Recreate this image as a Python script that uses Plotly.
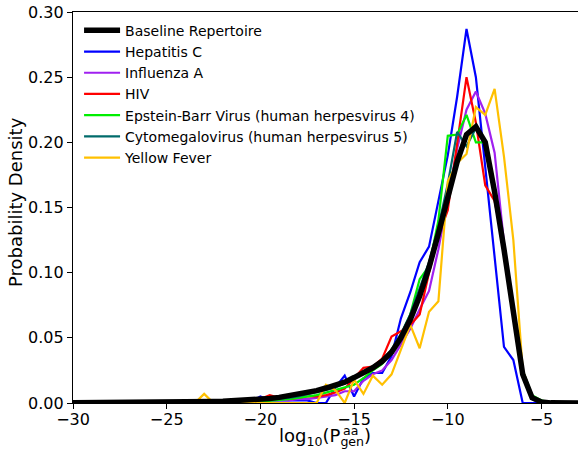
import numpy as np
import plotly.graph_objects as go

# bin centres of log10(Pgen) histogram, -30 .. -3 step 0.5
x_bins = np.arange(-30, -2.99, 0.5)

baseline = [0.0002, 0.0002, 0.0002, 0.0002, 0.0003, 0.0003, 0.0003, 0.0003, 0.0004, 0.0004,
            0.0005, 0.0006, 0.0007, 0.0008, 0.0009, 0.0011, 0.0013, 0.0016, 0.0019, 0.0023,
            0.0028, 0.0035, 0.0043, 0.0055, 0.0068, 0.0078, 0.0095, 0.0115, 0.0135, 0.016,
            0.0195, 0.023, 0.027, 0.032, 0.039, 0.050, 0.064, 0.082, 0.104, 0.130,
            0.157, 0.185, 0.206, 0.212, 0.200, 0.162, 0.118, 0.068, 0.022, 0.004,
            0.0008, 0.0001, 0.0, 0.0, 0.0]

hepatitis_c = [0, 0, 0, 0, 0, 0, 0, 0, 0, 0,
               0, 0, 0, 0, 0, 0, 0, 0, 0.0005, 0.001,
               0.005, 0.002, 0.002, 0.002, 0.002, 0.002, 0.0, 0.0, 0.012, 0.021,
               0.005, 0.019, 0.023, 0.023, 0.036, 0.065, 0.085, 0.108, 0.120, 0.155,
               0.190, 0.235, 0.287, 0.250, 0.180, 0.115, 0.043, 0.033, 0.0, 0.0,
               0, 0, 0, 0, 0]

influenza_a = [0, 0, 0, 0, 0, 0, 0, 0, 0, 0,
               0, 0, 0, 0, 0, 0, 0, 0, 0.0005, 0.001,
               0.001, 0.002, 0.002, 0.002, 0.003, 0.003, 0.004, 0.005, 0.006, 0.009,
               0.009, 0.017, 0.022, 0.025, 0.033, 0.045, 0.057, 0.072, 0.086, 0.118,
               0.158, 0.195, 0.225, 0.239, 0.222, 0.192, 0.123, 0.070, 0.025, 0.005,
               0.001, 0, 0, 0, 0]

hiv = [0, 0, 0, 0, 0, 0, 0, 0, 0, 0,
       0, 0, 0, 0, 0, 0, 0, 0, 0.001, 0.002,
       0.003, 0.006, 0.004, 0.003, 0.004, 0.005, 0.005, 0.006, 0.008, 0.011,
       0.019, 0.027, 0.028, 0.034, 0.051, 0.055, 0.060, 0.068, 0.100, 0.128,
       0.148, 0.200, 0.250, 0.215, 0.167, 0.155, 0.120, 0.068, 0.022, 0.004,
       0.001, 0, 0, 0, 0]

ebv = [0, 0, 0, 0, 0, 0, 0, 0, 0, 0,
       0, 0, 0, 0, 0, 0, 0, 0, 0.0003, 0.0005,
       0.001, 0.0015, 0.002, 0.003, 0.004, 0.005, 0.006, 0.008, 0.010, 0.012,
       0.014, 0.019, 0.025, 0.030, 0.040, 0.052, 0.068, 0.095, 0.105, 0.140,
       0.205, 0.206, 0.221, 0.200, 0.200, 0.160, 0.118, 0.068, 0.025, 0.006,
       0.002, 0, 0, 0, 0]

cmv = [0, 0, 0, 0, 0, 0, 0, 0, 0, 0,
       0, 0, 0, 0, 0, 0, 0, 0, 0.001, 0.0015,
       0.002, 0.0025, 0.003, 0.004, 0.005, 0.0065, 0.008, 0.010, 0.012, 0.015,
       0.019, 0.024, 0.028, 0.033, 0.041, 0.053, 0.068, 0.088, 0.108, 0.135,
       0.168, 0.208, 0.197, 0.211, 0.198, 0.160, 0.118, 0.068, 0.022, 0.004,
       0.001, 0, 0, 0, 0]

yellow_fever = [0, 0, 0, 0, 0, 0, 0, 0, 0, 0,
                0, 0, 0, 0, 0.007, 0, 0, 0, 0, 0,
                0, 0, 0, 0, 0, 0, 0, 0.014, 0.010, 0.0,
                0.018, 0.007, 0.021, 0.014, 0.022, 0.041, 0.060, 0.042, 0.070, 0.078,
                0.170, 0.184, 0.191, 0.227, 0.221, 0.241, 0.189, 0.125, 0.025, 0.005,
                0.001, 0, 0, 0, 0]

series = [
    ("Hepatitis C", hepatitis_c, "#0000ff"),
    ("Influenza A", influenza_a, "#a020f0"),
    ("HIV", hiv, "#ff0000"),
    ("Epstein-Barr Virus (human herpesvirus 4)", ebv, "#00ee00"),
    ("Cytomegalovirus (human herpesvirus 5)", cmv, "#006b6b"),
    ("Yellow Fever", yellow_fever, "#ffc000"),
]

fig = go.Figure()
for rank, (name, vals, color) in enumerate(series, start=2):
    fig.add_trace(go.Scatter(x=x_bins, y=vals, mode="lines", name=name,
                             line=dict(color=color, width=2.2), legendrank=rank))
fig.add_trace(go.Scatter(x=x_bins, y=baseline, mode="lines", name="Baseline Repertoire",
                         line=dict(color="black", width=5.5), legendrank=1))

font_family = "DejaVu Sans"
W, H = 578, 452
L, T, B, R = 73, 12, 49, 0
PW, PH = W - L - R, H - T - B


def px(page_x):
    return (page_x - L) / PW


def py(page_y):
    return (T + PH - page_y) / PH


fig.update_layout(
    width=W, height=H,
    margin=dict(l=L, r=R, t=T, b=B),
    plot_bgcolor="white", paper_bgcolor="white",
    font=dict(family=font_family, size=16, color="black"),
    showlegend=True,
    legend=dict(x=0.012, y=0.993, xanchor="left", yanchor="top", itemwidth=36,
                bgcolor="rgba(0,0,0,0)", font=dict(size=14, family=font_family)),
    xaxis=dict(range=[-30, -3.05], tickvals=[-30, -25, -20, -15, -10, -5],
               ticks="outside", ticklen=5, tickcolor="black", showline=True,
               linecolor="black", linewidth=1.2, mirror=True, showgrid=False,
               zeroline=False, automargin=False, ticklabelstandoff=-3),
    yaxis=dict(range=[0, 0.30], dtick=0.05, tickformat=".2f",
               ticks="outside", ticklen=5, tickcolor="black", showline=True,
               linecolor="black", linewidth=1.2, showgrid=False, zeroline=False,
               automargin=False),
)
# axis titles
fig.add_annotation(text="Probability Density", xref="paper", yref="paper",
                   x=px(15), y=py(202), showarrow=False, textangle=-90,
                   font=dict(size=18, family=font_family), xanchor="center", yanchor="middle")
fig.add_annotation(text="log<sub>10</sub>(P<sub>gen</sub>)", xref="paper", yref="paper",
                   x=px(325), y=py(437), showarrow=False,
                   font=dict(size=18, family=font_family), xanchor="center", yanchor="middle")
fig.add_annotation(text="aa", xref="paper", yref="paper", x=px(350), y=py(430),
                   showarrow=False, font=dict(size=12.5, family=font_family),
                   xanchor="center", yanchor="middle")

fig.write_html("out.html", config={"displayModeBar": False},
               post_script="document.body.style.margin='0px';document.body.style.padding='0px';")
